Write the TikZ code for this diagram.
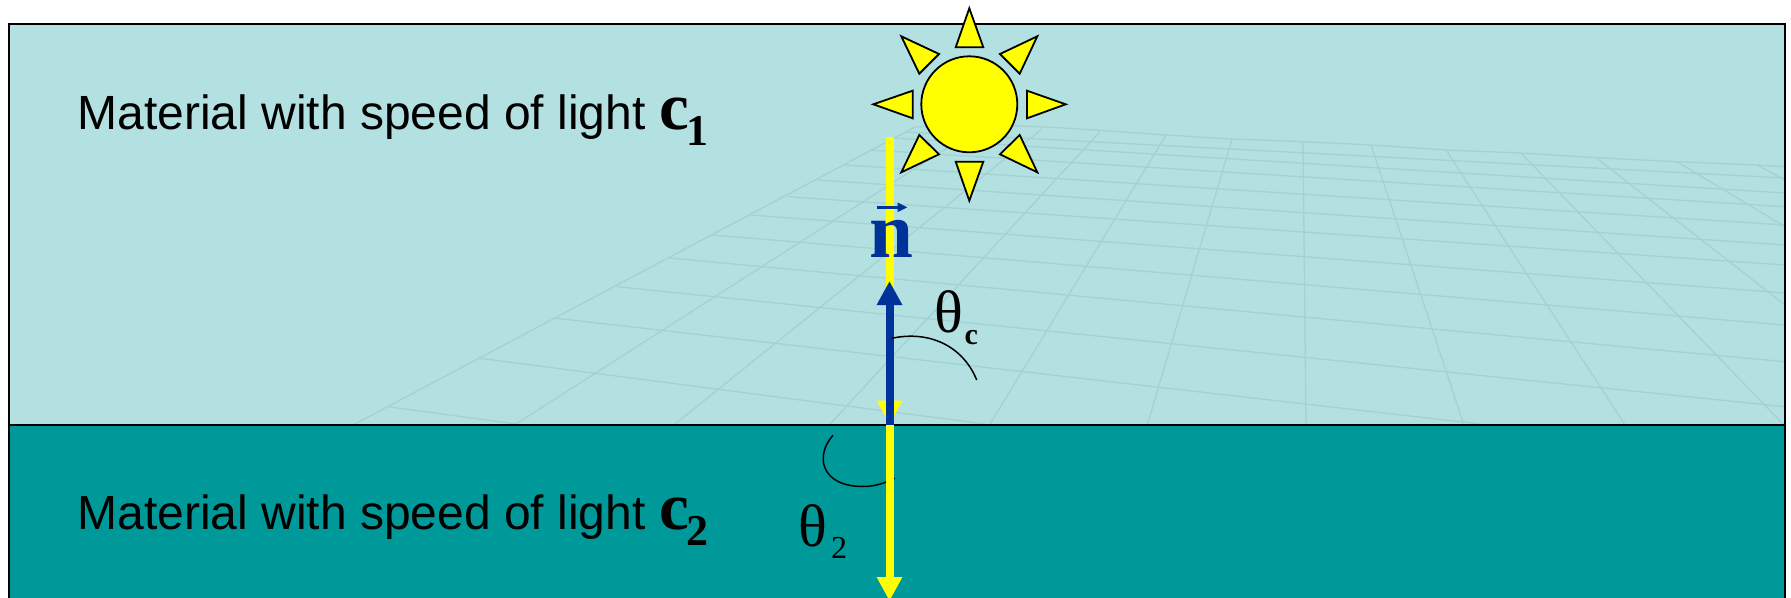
\documentclass[tikz,border=0pt]{standalone}
\usepackage{fontspec}
\setmainfont{Liberation Serif}
\newfontfamily\arialfont{Liberation Sans}
\usetikzlibrary{arrows.meta}
\definecolor{lightpanel}{HTML}{B3E0E0}
\definecolor{tealpanel}{HTML}{009999}
\definecolor{gridcol}{HTML}{A6D1D2}
\definecolor{normalblue}{HTML}{003399}
\definecolor{rayyellow}{HTML}{FFFF00}
\tikzset{
  panel/.style={draw=black,line width=2pt},
  gridline/.style={draw=gridcol,line width=1.3pt},
  sunpart/.style={draw=black,fill=rayyellow,line width=1.8pt,line join=miter},
  lightray/.style={draw=rayyellow,line width=8pt,-{Triangle[length=24pt,width=24pt]}},
  normalray/.style={draw=normalblue,line width=8pt,-{Triangle[length=24pt,width=24pt]}},
  anglearc/.style={draw=black,line width=1.5pt},
  label/.style={inner sep=0pt,outer sep=0pt,anchor=base west},
}
\newcommand{\fs}[1]{\fontsize{#1pt}{#1pt}\selectfont}
\begin{document}
\begin{tikzpicture}[x=1pt,y=-1pt]
\useasboundingbox (0,0) rectangle (1791,597);
% panels
\fill[lightpanel] (8.5,24) rectangle (1785.3,424.5);
\fill[tealpanel] (8.5,424.5) rectangle (1785.3,600);
% perspective grid
\begin{scope}
\clip (8.5,24) rectangle (1785.3,424.5);
\foreach \xa/\ya/\xb/\yb in {
  355/424/915/127, 516/424/980/127, 675/424/1042/129, 830/424/1100/131.7,
  990/424/1166/135, 1147.6/424/1232/139, 1306/424/1303/141.7, 1463.6/424/1371/145,
  1624.5/424/1446/150, 1783/424/1521/153, 1785/305/1596/157.7, 1785/226.7/1677/161.7,
  1785/180/1757/165}
  \draw[gridline] (\xa,\ya) -- (\xb,\yb);
\foreach \xa/\ya/\xb/\yb in {
  388/406.7/516/424, 480/358.3/985/424, 554/318/1480/424, 617/286.7/1785/406.7,
  669/258/1785/361.7, 713/235/1785/325, 751/215/1785/293, 788/196.7/1785/265,
  818/180/1785/245, 845/165/1785/225, 870/150/1785/206.7, 893/138/1785/193,
  905/132/1785/178}
  \draw[gridline] (\xa,\ya) -- (\xb,\yb);
\draw[gridline] (915,127) .. controls (1000,122) and (1080,129) .. (1166,135)
  -- (1232,139) -- (1303,141.7) -- (1371,145) -- (1446,150) -- (1521,153)
  -- (1596,157.7) -- (1677,161.7) -- (1757,165) -- (1785,166.7);
\end{scope}
% panel outlines
\draw[panel] (8.5,600) -- (8.5,24) -- (1785.3,24) -- (1785.3,600);
\draw[panel] (8.5,424.5) -- (1785.3,424.5);
% sun
\node[circle,sunpart,minimum size=96pt,inner sep=0pt] (sun) at (969.3,104.3) {};
\draw[sunpart] (969.3,8.3) -- (955.7,47.3) -- (983.3,47.3) -- cycle;
\draw[sunpart] (969.3,200.7) -- (955.7,161.7) -- (983.3,161.7) -- cycle;
\draw[sunpart] (873.3,104.3) -- (912.7,90.7) -- (912.7,118.3) -- cycle;
\draw[sunpart] (1065.7,104.3) -- (1027,90.7) -- (1027,118.3) -- cycle;
\draw[sunpart] (901.3,36.3) -- (939,54) -- (919.3,73.7) -- cycle;
\draw[sunpart] (1037.3,36.3) -- (1000,54) -- (1019.7,73.7) -- cycle;
\draw[sunpart] (901.3,172.3) -- (939,154.3) -- (919.3,135) -- cycle;
\draw[sunpart] (1037.3,172.3) -- (1000,154.3) -- (1019.7,135) -- cycle;
% angle arcs
\coordinate (arcCa) at (891.7,338.3);
\coordinate (arcCb) at (976.7,380);
\coordinate (arcBa) at (833,435.3);
\coordinate (arcBb) at (863,486.5);
\coordinate (arcBc) at (894.7,478.3);
% rays
\coordinate (rayTop) at (889.5,136.7);
\coordinate (raySurf) at (889.5,424.5);
\coordinate (rayEnd) at (889.5,601);
\coordinate (normalTip) at (889.5,281);
\draw[lightray] (rayTop) -- (raySurf);
\draw[anglearc] (arcBa) .. controls (815,455) and (820,486.5) .. (arcBb)
  .. controls (875,486.5) and (885,483) .. (arcBc);
\draw[lightray] (raySurf) -- (rayEnd);
\draw[normalray] (raySurf) -- (normalTip);
\draw[anglearc] (arcCa) .. controls (930,330) and (963.3,346.7) .. (arcCb);
% labels
\node[label] (m1) at (77.5,129.5) {\arialfont\fs{48}Material with speed of light};
\node[label] (c1) at (659,129) {\fs{67}\bfseries c};
\node[label] (c1s) at (686,145) {\fs{44}\bfseries 1};
\node[label] (m2) at (77.5,529.8) {\arialfont\fs{48}Material with speed of light};
\node[label] (c2) at (659,529.3) {\fs{67}\bfseries c};
\node[label] (c2s) at (686,545) {\fs{44}\bfseries 2};
\node[label,text=normalblue] (nvec) at (869,257.3) {\fs{79}\bfseries n};
\coordinate (na) at (876.7,207.3);
\coordinate (nb) at (907.5,207.3);
\draw[draw=normalblue,line width=2.4pt,-{Triangle[length=10pt,width=9pt]}] (na) -- (nb);
\node[label] (thc) at (934.5,332) {\fs{60}θ};
\node[label] (thcs) at (964.5,344) {\fs{30}\bfseries c};
\node[label] (th2) at (798.5,546) {\fs{60}θ};
\node[label] (th2s) at (831,558.5) {\fs{32}2};
\end{tikzpicture}
\end{document}
